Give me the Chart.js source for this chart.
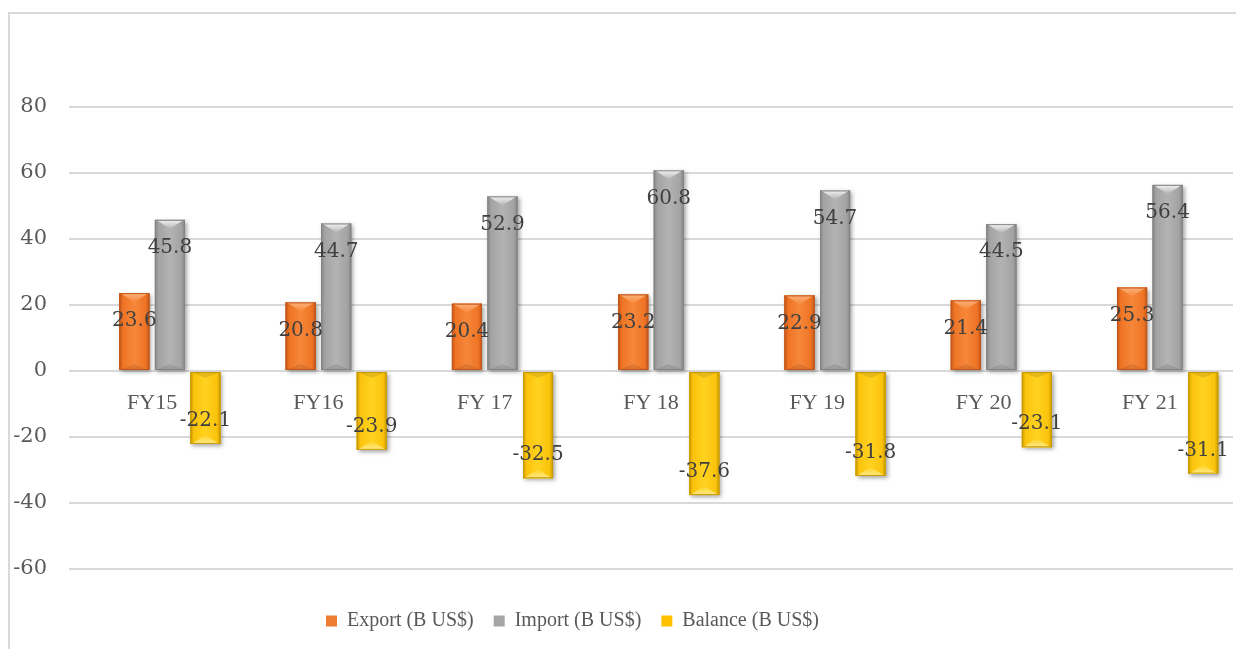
<!DOCTYPE html>
<html>
<head>
<meta charset="utf-8">
<script src="https://cdn.jsdelivr.net/npm/chart.js@4.4.1/dist/chart.umd.min.js"></script>
<style>
	html, body { margin: 0; padding: 0; background: #fff; overflow: hidden; }
	#wrap { position: relative; width: 1236px; height: 649px; }
	#frame { position: absolute; left: 8px; top: 12px; width: 1240px; height: 660px; border: 2px solid #d9d9d9; box-sizing: border-box; }
	#chart { position: absolute; left: 0; top: 0; }
</style>
</head>
<body>
<div id="wrap">
	<div id="frame"></div>
	<canvas id="chart" width="1236" height="649"></canvas>
</div>
<script>
const categories = ['FY15', 'FY16', 'FY 17', 'FY 18', 'FY 19', 'FY 20', 'FY 21'];
const exportVals = [23.6, 20.8, 20.4, 23.2, 22.9, 21.4, 25.3];
const importVals = [45.8, 44.7, 52.9, 60.8, 54.7, 44.5, 56.4];
const balanceVals = [-22.1, -23.9, -32.5, -37.6, -31.8, -23.1, -31.1];
// empty first series in the original workbook, it only takes a slot
const blankVals = [null, null, null, null, null, null, null];
const yTicks = [-60, -40, -20, 0, 20, 40, 60, 80];

const FONT = '"Liberation Serif", "DejaVu Serif", serif';
const NUMFONT = '"DejaVu Serif", serif';

// bevel look of the office bars, drawn over each bar element
const bevelBars = {
	id: 'bevelBars',
	afterDatasetsDraw(chart) {
		const ctx = chart.ctx;
		chart.data.datasets.forEach(function(ds, i) {
			if (!ds.shade) {
				return;
			}
			const s = ds.shade;
			chart.getDatasetMeta(i).data.forEach(function(bar, j) {
				if (ds.data[j] === null) {
					return;
				}
				const {x, y, base, width} = bar.getProps(['x', 'y', 'base', 'width'], true);
				const left = x - width / 2;
				const right = x + width / 2;
				const top = Math.min(y, base);
				const h = Math.abs(base - y);
				const dir = y < base ? 1 : -1;

				ctx.save();
				ctx.shadowColor = 'rgba(0,0,0,0.35)';
				ctx.shadowBlur = 4;
				ctx.shadowOffsetX = 2;
				ctx.shadowOffsetY = 2;
				ctx.fillStyle = s.mid;
				ctx.fillRect(left, top, width, h);
				ctx.restore();

				let g = ctx.createLinearGradient(left, 0, right, 0);
				g.addColorStop(0, s.dark);
				g.addColorStop(0.12, s.mid);
				g.addColorStop(0.5, s.hi);
				g.addColorStop(0.88, s.mid);
				g.addColorStop(1, s.dark);
				ctx.fillStyle = g;
				ctx.fillRect(left, top, width, h);

				// light chevron at the value end
				const d = Math.min(width * 0.3, h / 2);
				let g2 = ctx.createLinearGradient(0, y, 0, y + dir * d);
				g2.addColorStop(0, s.light);
				g2.addColorStop(1, s.hi);
				ctx.fillStyle = g2;
				ctx.beginPath();
				ctx.moveTo(left + 1, y);
				ctx.lineTo(right - 1, y);
				ctx.lineTo(x, y + dir * d);
				ctx.closePath();
				ctx.fill();

				// darker chevron at the base
				ctx.fillStyle = 'rgba(0,0,0,0.10)';
				ctx.beginPath();
				ctx.moveTo(left + 1, base);
				ctx.lineTo(right - 1, base);
				ctx.lineTo(x, base - dir * Math.min(6, h / 2));
				ctx.closePath();
				ctx.fill();

				ctx.strokeStyle = s.dark;
				ctx.lineWidth = 1;
				ctx.strokeRect(left + 0.5, top + 0.5, width - 1, h - 1);
			});
		});

		// value labels, inside end
		ctx.save();
		ctx.font = '20px ' + NUMFONT;
		ctx.fillStyle = '#404040';
		ctx.textAlign = 'center';
		ctx.textBaseline = 'middle';
		chart.data.datasets.forEach(function(ds, i) {
			if (!ds.shade) {
				return;
			}
			chart.getDatasetMeta(i).data.forEach(function(bar, j) {
				const v = ds.data[j];
				if (v === null) {
					return;
				}
				const off = v >= 0 ? 28 : -23;
				ctx.fillText(v.toFixed(1), bar.x, bar.y + off);
			});
		});
		ctx.restore();
	}
};

const legendBox = {
	id: 'legendBox',
	beforeInit(chart) {
		const fit = chart.legend.fit;
		chart.legend.fit = function() {
			fit.call(this);
			this.height = 80;
		};
	},
	afterLayout(chart) {
		// legend sits a little left of centre in the original
		chart.legend.right -= 88;
	}
};

new Chart(document.getElementById('chart'), {
	type: 'bar',
	data: {
		labels: categories,
		datasets: [
			{ label: '', data: blankVals, backgroundColor: 'rgba(0,0,0,0)' },
			{ label: 'Export (B US$)', data: exportVals, backgroundColor: '#ed7d31', borderColor: '#c55a11',
				shade: { dark: '#c2561a', mid: '#ee7424', hi: '#f7873a', light: '#fbb27c' } },
			{ label: 'Import (B US$)', data: importVals, backgroundColor: '#a5a5a5', borderColor: '#7f7f7f',
				shade: { dark: '#858585', mid: '#a3a3a3', hi: '#b3b3b3', light: '#f4f4f4' } },
			{ label: 'Balance (B US$)', data: balanceVals, backgroundColor: '#ffc000', borderColor: '#bf9000',
				shade: { dark: '#c99a00', mid: '#fbc30c', hi: '#ffd21f', light: '#ffe98a' } }
		]
	},
	options: {
		responsive: false,
		animation: false,
		categoryPercentage: 0.855,
		barPercentage: 0.845,
		layout: { padding: { top: 107, right: 3, left: 0, bottom: 0 } },
		plugins: {
			tooltip: { enabled: false },
			legend: {
				position: 'bottom',
				title: { display: true, text: '', font: { size: 10 }, padding: { top: 10, bottom: 0 } },
				labels: {
					boxWidth: 11,
					boxHeight: 11,
					padding: 20,
					color: '#595959',
					font: { family: FONT, size: 20 },
					filter: function(item) { return item.text !== ''; }
				}
			}
		},
		scales: {
			x: {
				position: { y: 0 },
				afterFit: function(s) { s.height = 0; },
				grid: { display: false },
				border: { display: false },
				ticks: { color: '#595959', padding: 11, font: { family: FONT, size: 22 } }
			},
			y: {
				min: -60,
				max: 80,
				afterFit: function(s) { s.width = 69; },
				afterBuildTicks: function(s) { s.ticks = yTicks.map(function(v) { return { value: v }; }); },
				grid: { color: '#d9d9d9', lineWidth: 2, drawTicks: false },
				border: { display: false },
				ticks: { color: '#595959', padding: 22, font: { family: NUMFONT, size: 21 } }
			}
		}
	},
	plugins: [bevelBars, legendBox]
});
</script>
</body>
</html>
